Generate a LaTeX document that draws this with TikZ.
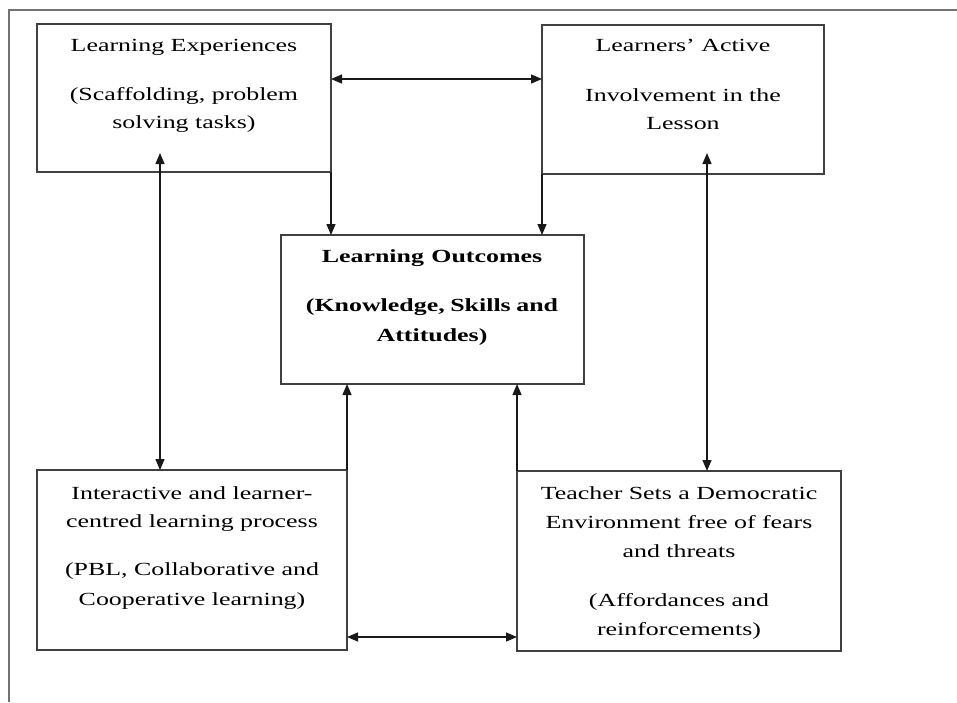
\documentclass[tikz,border=0pt]{standalone}
\usepackage{fontspec}
\setmainfont[FakeStretch=1.4]{Liberation Serif}
\usetikzlibrary{arrows.meta}
\begin{document}
\begin{tikzpicture}[x=1pt,y=-1pt,
  box/.style={draw=black!75, line width=1.2pt, inner sep=0pt, outer sep=0pt},
  txt/.style={anchor=base, inner sep=0pt, font=\fontsize{18.5}{22}\selectfont},
  boldtxt/.style={txt, font=\fontsize{18.5}{22}\selectfont\bfseries},
  link/.style={line width=1.3pt, draw=black!90},
  head/.style={-{Triangle[length=11pt,width=9pt]}},
  twoheads/.style={{Triangle[length=11pt,width=9pt]}-{Triangle[length=11pt,width=9pt]}},
]
\useasboundingbox (0,0) rectangle (957,702);

% outer frame
\draw[black!55, line width=1.6pt] (957,10) -- (9,10) -- (9,702);

% boxes
\node[box, minimum width=294pt, minimum height=148pt] (A) at (184,98) {};
\node[box, minimum width=282pt, minimum height=149pt] (B) at (683,99.5) {};
\node[box, minimum width=303pt, minimum height=149pt] (C) at (432.5,309.5) {};
\node[box, minimum width=310pt, minimum height=180pt] (D) at (192,560) {};
\node[box, minimum width=324pt, minimum height=180pt] (E) at (679,561) {};

% box texts
\node[txt] (a1) at (184,51) {Learning Experiences};
\node[txt] (a2) at (184,100) {(Scaffolding, problem};
\node[txt] (a3) at (184,128) {solving tasks)};

\node[txt] (b1) at (683,51) {Learners’ Active};
\node[txt] (b2) at (683,101) {Involvement in the};
\node[txt] (b3) at (683,129) {Lesson};

\node[boldtxt] (c1) at (432,262) {Learning\hspace{0.4em}Outcomes};
\node[boldtxt] (c2) at (432,311) {(Knowledge,\hspace{0.3em}Skills\hspace{0.3em}and};
\node[boldtxt] (c3) at (432,341) {Attitudes)};

\node[txt] (d1) at (192,499) {Interactive and learner-};
\node[txt] (d2) at (192,527) {centred learning process};
\node[txt] (d3) at (192,575) {(PBL, Collaborative and};
\node[txt] (d4) at (192,605) {Cooperative learning)};

\node[txt] (e1) at (679,499) {Teacher Sets a Democratic};
\node[txt] (e2) at (679,528) {Environment free of fears};
\node[txt] (e3) at (679,557) {and threats};
\node[txt] (e4) at (679,606) {(Affordances and};
\node[txt] (e5) at (679,635) {reinforcements)};

% inner ends of the long vertical links
\coordinate (aIn) at (160,153);
\coordinate (bIn) at (707,153);

% connectors
\draw[link, twoheads] (A.east |- 0,79) -- (B.west |- 0,79);
\draw[link, twoheads] (D.east |- 0,637) -- (E.west |- 0,637);
\draw[link, head] (A.south east) -- (A.south east |- C.north);
\draw[link, head] (B.south west) -- (B.south west |- C.north);
\draw[link, head] (D.north east) -- (D.north east |- C.south);
\draw[link, head] (E.north west) -- (E.north west |- C.south);
\draw[link, twoheads] (aIn) -- (aIn |- D.north);
\draw[link, twoheads] (bIn) -- (bIn |- E.north);
\end{tikzpicture}
\end{document}
